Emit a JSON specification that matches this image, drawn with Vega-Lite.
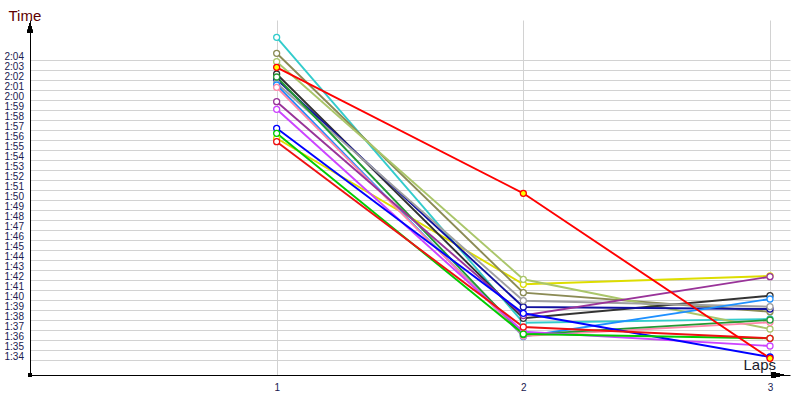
{
  "$schema": "https://vega.github.io/schema/vega-lite/v6.json",
  "width": 760,
  "height": 355,
  "autosize": {"type": "none"},
  "padding": {"left": 30, "top": 20, "right": 10, "bottom": 25},
  "background": "white",
  "config": {"view": {"stroke": null}},
  "data": {
    "values": [
      {"d": "D15", "lap": 1, "t": 116.17}, {"d": "D15", "lap": 2, "t": 101.57}, {"d": "D15", "lap": 3, "t": 102.4},
      {"d": "D01", "lap": 1, "t": 126.27}, {"d": "D01", "lap": 2, "t": 97.73}, {"d": "D01", "lap": 3, "t": 98.1},
      {"d": "D02", "lap": 1, "t": 124.67}, {"d": "D02", "lap": 2, "t": 100.73}, {"d": "D02", "lap": 3, "t": 98.83},
      {"d": "D03", "lap": 1, "t": 123.83}, {"d": "D03", "lap": 2, "t": 102.07}, {"d": "D03", "lap": 3, "t": 97.1},
      {"d": "D05", "lap": 1, "t": 122.6}, {"d": "D05", "lap": 2, "t": 98.17}, {"d": "D05", "lap": 3, "t": 100.43},
      {"d": "D06", "lap": 1, "t": 122.07}, {"d": "D06", "lap": 2, "t": 99.3}, {"d": "D06", "lap": 3, "t": 99.1},
      {"d": "D07", "lap": 1, "t": 121.67}, {"d": "D07", "lap": 2, "t": 99.93}, {"d": "D07", "lap": 3, "t": 99.33},
      {"d": "D08", "lap": 1, "t": 121.5}, {"d": "D08", "lap": 2, "t": 96.35}, {"d": "D08", "lap": 3, "t": 100.1},
      {"d": "D09", "lap": 1, "t": 121.27}, {"d": "D09", "lap": 2, "t": 96.4}, {"d": "D09", "lap": 3, "t": 97.77},
      {"d": "D10", "lap": 1, "t": 122.3}, {"d": "D10", "lap": 2, "t": 96.54}, {"d": "D10", "lap": 3, "t": 98.0},
      {"d": "D11", "lap": 1, "t": 119.83}, {"d": "D11", "lap": 2, "t": 98.45}, {"d": "D11", "lap": 3, "t": 102.33},
      {"d": "D12", "lap": 1, "t": 119.07}, {"d": "D12", "lap": 2, "t": 96.83}, {"d": "D12", "lap": 3, "t": 95.4},
      {"d": "D13", "lap": 1, "t": 117.17}, {"d": "D13", "lap": 2, "t": 98.67}, {"d": "D13", "lap": 3, "t": 94.3},
      {"d": "D14", "lap": 1, "t": 116.67}, {"d": "D14", "lap": 2, "t": 96.6}, {"d": "D14", "lap": 3, "t": 96.17},
      {"d": "D16", "lap": 1, "t": 115.83}, {"d": "D16", "lap": 2, "t": 97.3}, {"d": "D16", "lap": 3, "t": 96.17},
      {"d": "D04", "lap": 1, "t": 123.27}, {"d": "D04", "lap": 2, "t": 110.67}, {"d": "D04", "lap": 3, "t": 94.17}
    ]
  },
  "layer": [
    {
      "mark": {"type": "line", "strokeWidth": 1.9, "clip": false},
      "encoding": {
        "x": {
          "field": "lap", "type": "quantitative",
          "scale": {"domain": [0, 3.0811], "nice": false, "zero": false},
          "axis": {
            "values": [1, 2, 3], "tickCount": 10, "format": "d", "grid": true, "gridColor": "#d2d2d2", "ticks": false,
            "domainColor": "#000000", "labelPadding": 7, "labelFont": "Liberation Sans",
            "labelFontSize": 10, "labelColor": "#202050", "labelFlush": false,
            "title": "Laps", "titleX": 713, "titleY": -6, "titleAlign": "left",
            "titleBaseline": "alphabetic", "titleFont": "Liberation Sans", "titleFontSize": 15,
            "titleFontWeight": "normal", "titleColor": "#1a1a2a"
          }
        },
        "y": {
          "field": "t", "type": "quantitative",
          "scale": {"domain": [92.5, 128], "nice": false, "zero": false},
          "axis": {
            "values": [94, 95, 96, 97, 98, 99, 100, 101, 102, 103, 104, 105, 106, 107, 108, 109, 110, 111, 112, 113, 114, 115, 116, 117, 118, 119, 120, 121, 122, 123, 124],
            "tickCount": 100,
            "labelExpr": "floor(datum.value/60) + ':' + (datum.value % 60 < 10 ? '0' : '') + (datum.value % 60)",
            "grid": true, "gridColor": "#d2d2d2", "ticks": false, "domainColor": "#000000",
            "labelAlign": "left", "labelPadding": 26, "labelBaseline": "alphabetic", "labelOffset": -1,
            "labelFont": "Liberation Sans", "labelFontSize": 10, "labelColor": "#202050", "labelOverlap": false,
            "title": "Time", "titleAngle": 0, "titleX": -22, "titleY": 0, "titleAlign": "left",
            "titleBaseline": "alphabetic", "titleFont": "Liberation Sans", "titleFontSize": 15,
            "titleFontWeight": "normal", "titleColor": "#600000"
          }
        },
        "color": {
          "field": "d", "type": "nominal", "legend": null,
          "scale": {
            "domain": ["D01", "D02", "D03", "D04", "D05", "D06", "D07", "D08", "D09", "D10", "D11", "D12", "D13", "D14", "D15", "D16"],
            "range": ["#33CCCC", "#8B8B55", "#AAC66A", "#FF0000", "#333333", "#1010A0", "#A0A0A0", "#1E90FF", "#FF88AA", "#229933", "#993399", "#CC44FF", "#0000FF", "#00CC00", "#DDDD00", "#EE1111"]
          }
        }
      }
    },
    {
      "mark": {"type": "point", "filled": true, "size": 36, "strokeWidth": 1.3, "opacity": 1, "clip": false},
      "encoding": {
        "x": {"field": "lap", "type": "quantitative"},
        "y": {"field": "t", "type": "quantitative"},
        "stroke": {
          "field": "d", "type": "nominal", "legend": null,
          "scale": {
            "domain": ["D01", "D02", "D03", "D04", "D05", "D06", "D07", "D08", "D09", "D10", "D11", "D12", "D13", "D14", "D15", "D16"],
            "range": ["#33CCCC", "#8B8B55", "#AAC66A", "#FF0000", "#333333", "#1010A0", "#A0A0A0", "#1E90FF", "#FF88AA", "#229933", "#993399", "#CC44FF", "#0000FF", "#00CC00", "#DDDD00", "#EE1111"]
          }
        },
        "fill": {"condition": {"test": "datum.d === 'D04'", "value": "#FFFF00"}, "value": "#FFFFFF"}
      }
    },
    {
      "mark": {"type": "point", "shape": "M0,-1L0.6,1L-0.6,1Z", "size": 100, "filled": true, "color": "#000000", "opacity": 1, "clip": false},
      "encoding": {
        "x": {"datum": 0, "type": "quantitative"},
        "y": {"datum": 127.2, "type": "quantitative"}
      }
    },
    {
      "mark": {"type": "point", "shape": "M1,0L-1,0.5L-1,-0.5Z", "size": 144, "filled": true, "color": "#000000", "opacity": 1, "clip": false},
      "encoding": {
        "x": {"datum": 3.032, "type": "quantitative"},
        "y": {"datum": 92.5, "type": "quantitative"}
      }
    },
    {
      "mark": {"type": "point", "shape": "square", "size": 12, "filled": true, "color": "#000000", "opacity": 1, "clip": false},
      "encoding": {
        "x": {"datum": 0, "type": "quantitative"},
        "y": {"datum": 92.5, "type": "quantitative"}
      }
    }
  ]
}
